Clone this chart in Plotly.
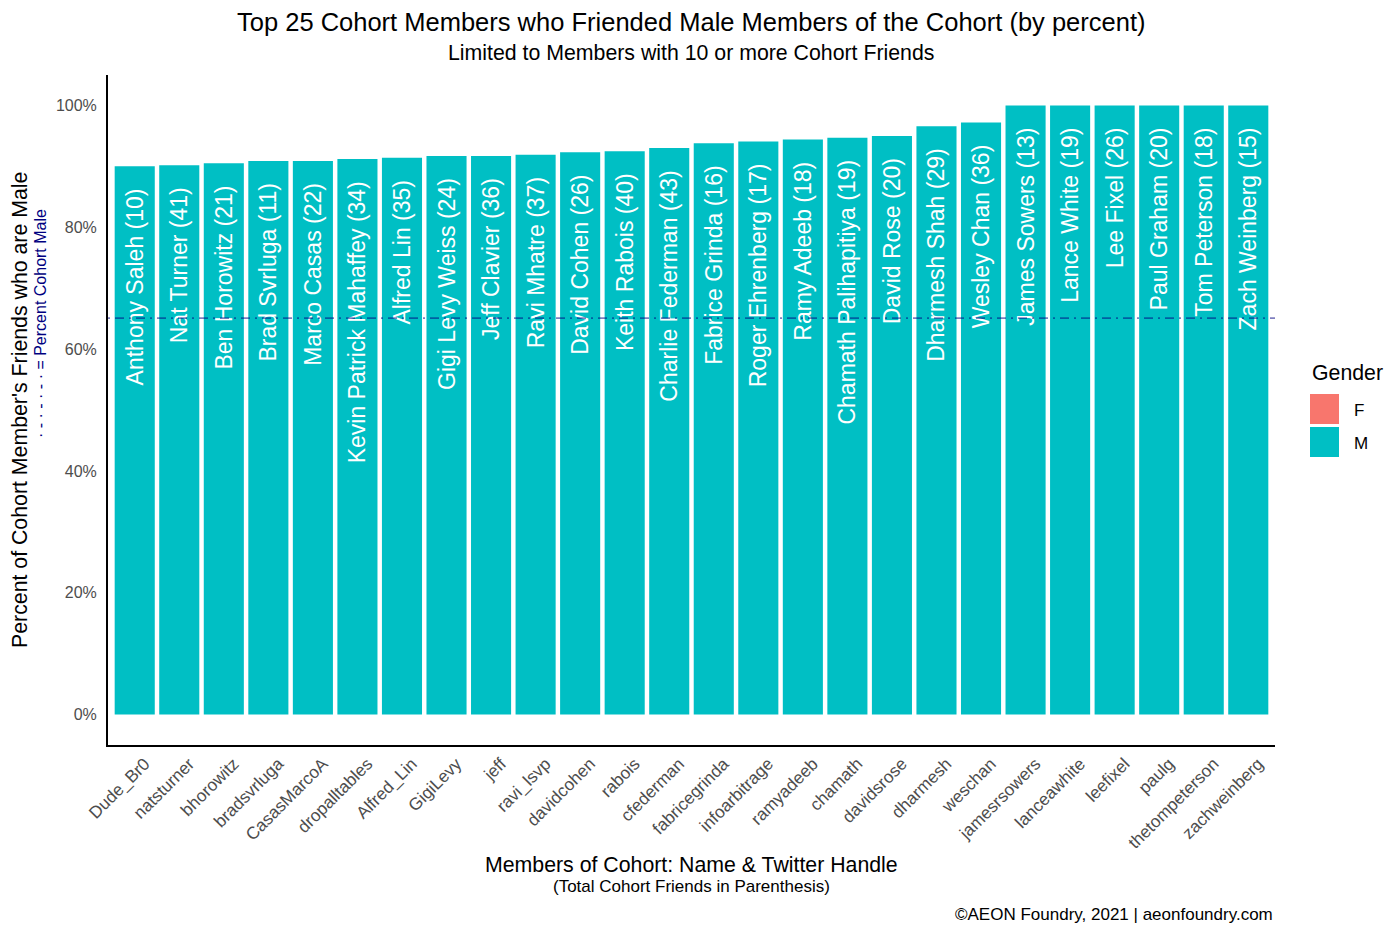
import plotly.graph_objects as go

# ---- data ----
handles = ["Dude_Br0", "natsturner", "bhorowitz", "bradsvrluga", "CasasMarcoA",
           "dropalltables", "Alfred_Lin", "GigiLevy", "jeff", "ravi_lsvp",
           "davidcohen", "rabois", "cfederman", "fabricegrinda", "infoarbitrage",
           "ramyadeeb", "chamath", "davidsrose", "dharmesh", "weschan",
           "jamesrsowers", "lanceawhite", "leefixel", "paulg", "thetompeterson",
           "zachweinberg"]
names = ["Anthony Saleh", "Nat Turner", "Ben Horowitz", "Brad Svrluga", "Marco Casas",
         "Kevin Patrick Mahaffey", "Alfred Lin", "Gigi Levy Weiss", "Jeff Clavier", "Ravi Mhatre",
         "David Cohen", "Keith Rabois", "Charlie Federman", "Fabrice Grinda", "Roger Ehrenberg",
         "Ramy Adeeb", "Chamath Palihapitiya", "David Rose", "Dharmesh Shah", "Wesley Chan",
         "James Sowers", "Lance White", "Lee Fixel", "Paul Graham", "Tom Peterson",
         "Zach Weinberg"]
friends = [10, 41, 21, 11, 22, 34, 35, 24, 36, 37, 26, 40, 43, 16, 17, 18, 19, 20, 29, 36,
           13, 19, 26, 20, 18, 15]
pct_male = [90.0, 90.2, 90.5, 90.9, 90.9, 91.2, 91.4, 91.7, 91.7, 91.9, 92.3, 92.5, 93.0,
            93.8, 94.1, 94.4, 94.7, 95.0, 96.6, 97.2, 100, 100, 100, 100, 100, 100]
cohort_male_pct = 65.1
y_ticks = [0, 20, 40, 60, 80, 100]
y_tick_labels = ["0%", "20%", "40%", "60%", "80%", "100%"]
genders = ["F", "M"]
gender_colors = {"F": "#F8766D", "M": "#00BFC4"}

FONT = "Liberation Sans, Arial, Helvetica, sans-serif"
NB = "\u00a0"
labels = [f"{n} ({c}){NB*3}" for n, c in zip(names, friends)]

# page offset (browser body margin)
OFF = 8
W, H = 1400 - OFF, 933 - OFF
# plot area in page pixels
PL, PR, PT, PB = 108, 1275, 75, 745
L, T = PL - OFF, PT - OFF
R = W - (PR - OFF)
B = H - (PB - OFF)
pw, ph = PR - PL, PB - PT


def px(xp):
    return (xp - PL) / pw


def py(yp):
    return (PB - yp) / ph


fig = go.Figure()
fig.add_trace(go.Bar(
    x=handles, y=pct_male, text=labels,
    marker=dict(color=gender_colors["M"], line=dict(width=0)),
    textposition="inside", insidetextanchor="end", textangle=-90,
    insidetextfont=dict(color="white", size=23, family=FONT),
    constraintext="none", showlegend=False, hoverinfo="x+y",
))

fig.add_shape(type="line", xref="paper", x0=0, x1=1, yref="y",
              y0=cohort_male_pct, y1=cohort_male_pct,
              line=dict(color="rgba(0,0,128,0.5)", width=1.8, dash="2px,5px,9px,5px"),
              layer="above")

ann = []
ann.append(dict(text="Top 25 Cohort Members who Friended Male Members of the Cohort (by percent)",
                x=px(691), y=py(22), font=dict(size=25.5, color="black")))
ann.append(dict(text="Limited to Members with 10 or more Cohort Friends",
                x=px(691), y=py(53), font=dict(size=21.3, color="black")))
ann.append(dict(text="Members of Cohort: Name & Twitter Handle",
                x=px(691), y=py(865), font=dict(size=21.3, color="black")))
ann.append(dict(text="(Total Cohort Friends in Parenthesis)",
                x=px(691), y=py(886), font=dict(size=17, color="black")))
ann.append(dict(text="©AEON Foundry, 2021 | aeonfoundry.com",
                x=1, xanchor="right", y=py(914), font=dict(size=17, color="black")))
ann.append(dict(text="Percent of Cohort Member's Friends who are Male",
                x=px(20), y=py(410), textangle=-90, font=dict(size=21.3, color="black")))
ann.append(dict(text="· - · - · - · = Percent Cohort Male",
                x=px(40), y=py(324), textangle=-90, font=dict(size=16, color="#000080")))
# legend
ann.append(dict(text="Gender", x=px(1310), xanchor="left", y=py(373),
                font=dict(size=21.3, color="black")))
shapes = []
for i, g in enumerate(genders):
    y0 = 394 + i * 33
    shapes.append(dict(type="rect", xref="paper", yref="paper",
                       x0=px(1310), x1=px(1339), y0=py(y0), y1=py(y0 + 30),
                       fillcolor=gender_colors[g], line=dict(width=0)))
    ann.append(dict(text=g, x=px(1352), xanchor="left", y=py(y0 + 16),
                    font=dict(size=17, color="black")))

for a in ann:
    a.setdefault("xanchor", "center")
    a.update(xref="paper", yref="paper", yanchor="middle", showarrow=False)
    a["font"]["family"] = FONT

for s in shapes:
    fig.add_shape(**s)

fig.update_layout(
    width=W, height=H,
    margin=dict(l=L, r=R, t=T, b=B, autoexpand=False),
    paper_bgcolor="white", plot_bgcolor="white",
    font=dict(family=FONT),
    bargap=0.1,
    annotations=ann,
    showlegend=False,
)
fig.update_xaxes(
    type="category", categoryorder="array", categoryarray=handles,
    range=[-0.6, len(handles) - 0.4],
    showline=True, linecolor="black", linewidth=2, mirror=False,
    ticks="", showgrid=False, zeroline=False,
    tickangle=-45, ticklabelshift=10,
    tickfont=dict(size=17.2, color="#4D4D4D", family=FONT),
)
fig.update_yaxes(
    range=[-5, 105], tickvals=y_ticks, ticktext=y_tick_labels,
    showline=True, linecolor="black", linewidth=2,
    ticks="", showgrid=False, zeroline=False, ticklabelstandoff=6,
    tickfont=dict(size=16, color="#4D4D4D", family=FONT),
)

fig.write_html("out.html")
